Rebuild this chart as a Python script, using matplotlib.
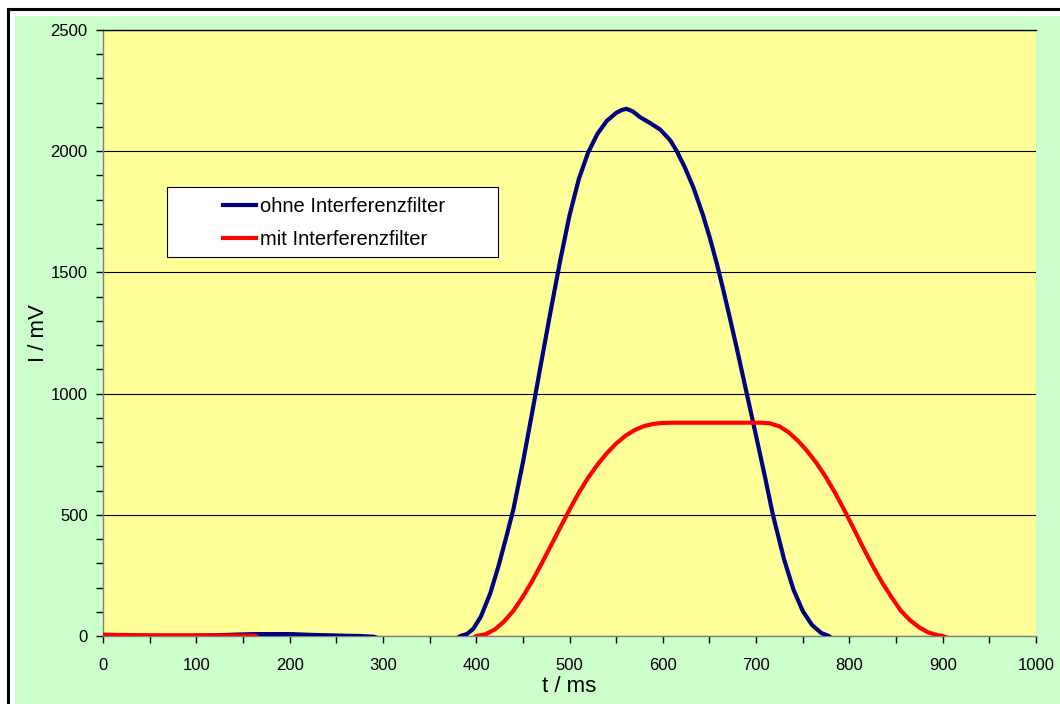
import matplotlib
matplotlib.use("Agg")
import matplotlib.pyplot as plt
from matplotlib.patches import Rectangle
from matplotlib.ticker import MultipleLocator

plt.rcParams['font.family'] = ['Liberation Sans', 'DejaVu Sans']

# ---- data ----
t_blue = [0, 90, 100, 120, 145, 165, 200, 220, 240, 260, 275, 290, 300, 378,
          383, 390, 397, 405, 415, 424, 432, 440, 450, 460, 470, 480, 490, 500,
          510, 520, 530, 540, 550, 556, 561, 568, 575, 586, 597, 608, 615, 624,
          633, 643, 650, 658, 665, 672, 680, 690, 700, 710, 718, 730, 740, 750,
          760, 770, 778, 783, 1000]
v_blue = [-15, -15, 1, 3, 6, 8, 8, 5, 3, 1, 0, -3, -15, -15,
          0, 8, 30, 80, 175, 290, 405, 525, 715, 922, 1135, 1345, 1548, 1735,
          1885, 1995, 2072, 2125, 2158, 2170, 2175, 2164, 2142, 2117, 2090, 2045, 2000, 1930,
          1848, 1737, 1648, 1535, 1425, 1310, 1175, 1000, 825, 648, 500, 316, 192, 103,
          45, 12, 0, -15, -15]

t_red = [0, 5, 20, 60, 100, 140, 163, 170, 395, 400, 410, 420, 430, 440, 450,
         460, 470, 480, 490, 500, 510, 520, 530, 540, 550, 560, 570, 580, 590,
         600, 610, 650, 705, 715, 725, 735, 745, 755, 765, 775, 785, 795, 805,
         815, 825, 835, 845, 855, 865, 875, 885, 895, 900, 910, 1000]
v_red = [6, 5, 4, 3, 3, 2, 1, -15, -15, 0, 7, 27, 60, 105, 162,
         227, 298, 372, 447, 521, 591, 653, 707, 754, 794, 826, 850, 866, 875,
         879, 880, 880, 880, 877, 865, 840, 805, 762, 712, 654, 588, 516, 440,
         363, 289, 221, 161, 105, 65, 35, 14, 3, 0, -15, -15]

label_blue = "ohne Interferenzfilter"
label_red = "mit Interferenzfilter"
x_label = "t / ms"
y_label = "I / mV"

W, H, DPI = 1060, 704, 100
fig = plt.figure(figsize=(W / DPI, H / DPI), dpi=DPI)
fig.patch.set_facecolor('white')

# outer frame: black line + green chart area
fig.add_artist(Rectangle((8 / DPI, -1), 20, (H - 9) / DPI + 1,
                         transform=fig.dpi_scale_trans, facecolor='none',
                         edgecolor='black', linewidth=2.2, zorder=-3))
fig.add_artist(Rectangle((15 / DPI, -1), 20, (H - 15.5) / DPI + 1,
                         transform=fig.dpi_scale_trans, facecolor='#CCFFCC',
                         edgecolor='none', zorder=-2))

ax = fig.add_axes([103 / W, (H - 636) / H, (1036 - 103) / W, (636 - 30) / H])
ax.set_facecolor('#FFFF99')

ax.plot(t_blue, v_blue, color='#000080', linewidth=3.0, label=label_blue,
        solid_joinstyle='round', zorder=3)
ax.plot(t_red, v_red, color='#FF0000', linewidth=3.0, label=label_red,
        solid_joinstyle='round', zorder=3)

ax.set_xlim(0, 1000)
ax.set_ylim(0, 2500)
ax.xaxis.set_major_locator(MultipleLocator(100))
ax.xaxis.set_minor_locator(MultipleLocator(50))
ax.yaxis.set_major_locator(MultipleLocator(500))
ax.yaxis.set_minor_locator(MultipleLocator(100))
ax.tick_params(which='both', direction='out', length=5, width=1, color='black')
ax.tick_params(axis='both', labelsize=12, labelcolor='black')
ax.tick_params(axis='x', pad=11)
ax.tick_params(axis='y', pad=6)

ax.grid(axis='y', which='major', color='black', linewidth=0.8)
ax.set_axisbelow(True)

ax.spines['right'].set_visible(False)
ax.spines['top'].set_color('black')
ax.spines['top'].set_linewidth(1.0)
for s in ('left', 'bottom'):
    ax.spines[s].set_color('#808080')
    ax.spines[s].set_linewidth(1.0)

ax.set_xlabel(x_label, fontsize=16)
ax.set_ylabel(y_label, fontsize=16)
ax.xaxis.set_label_coords(0.5, -0.066)
ax.yaxis.set_label_coords(-0.058, 0.5)

# legend box
ax.add_patch(Rectangle(((167 - 103) / 933, (636 - 257) / 606), 331 / 933, 70 / 606,
                       transform=ax.transAxes, facecolor='white', edgecolor='black',
                       linewidth=0.8, zorder=4))
leg = ax.legend(loc='center', bbox_to_anchor=((334 - 103) / 933, (636 - 223) / 606),
                frameon=False, fontsize=14.5, handlelength=1.65, handletextpad=0.2,
                labelspacing=0.72, borderpad=0.0)
leg.set_zorder(5)
for ln in leg.get_lines():
    ln.set_linewidth(3.0)

fig.savefig('out.png', dpi=DPI, facecolor=fig.get_facecolor())
